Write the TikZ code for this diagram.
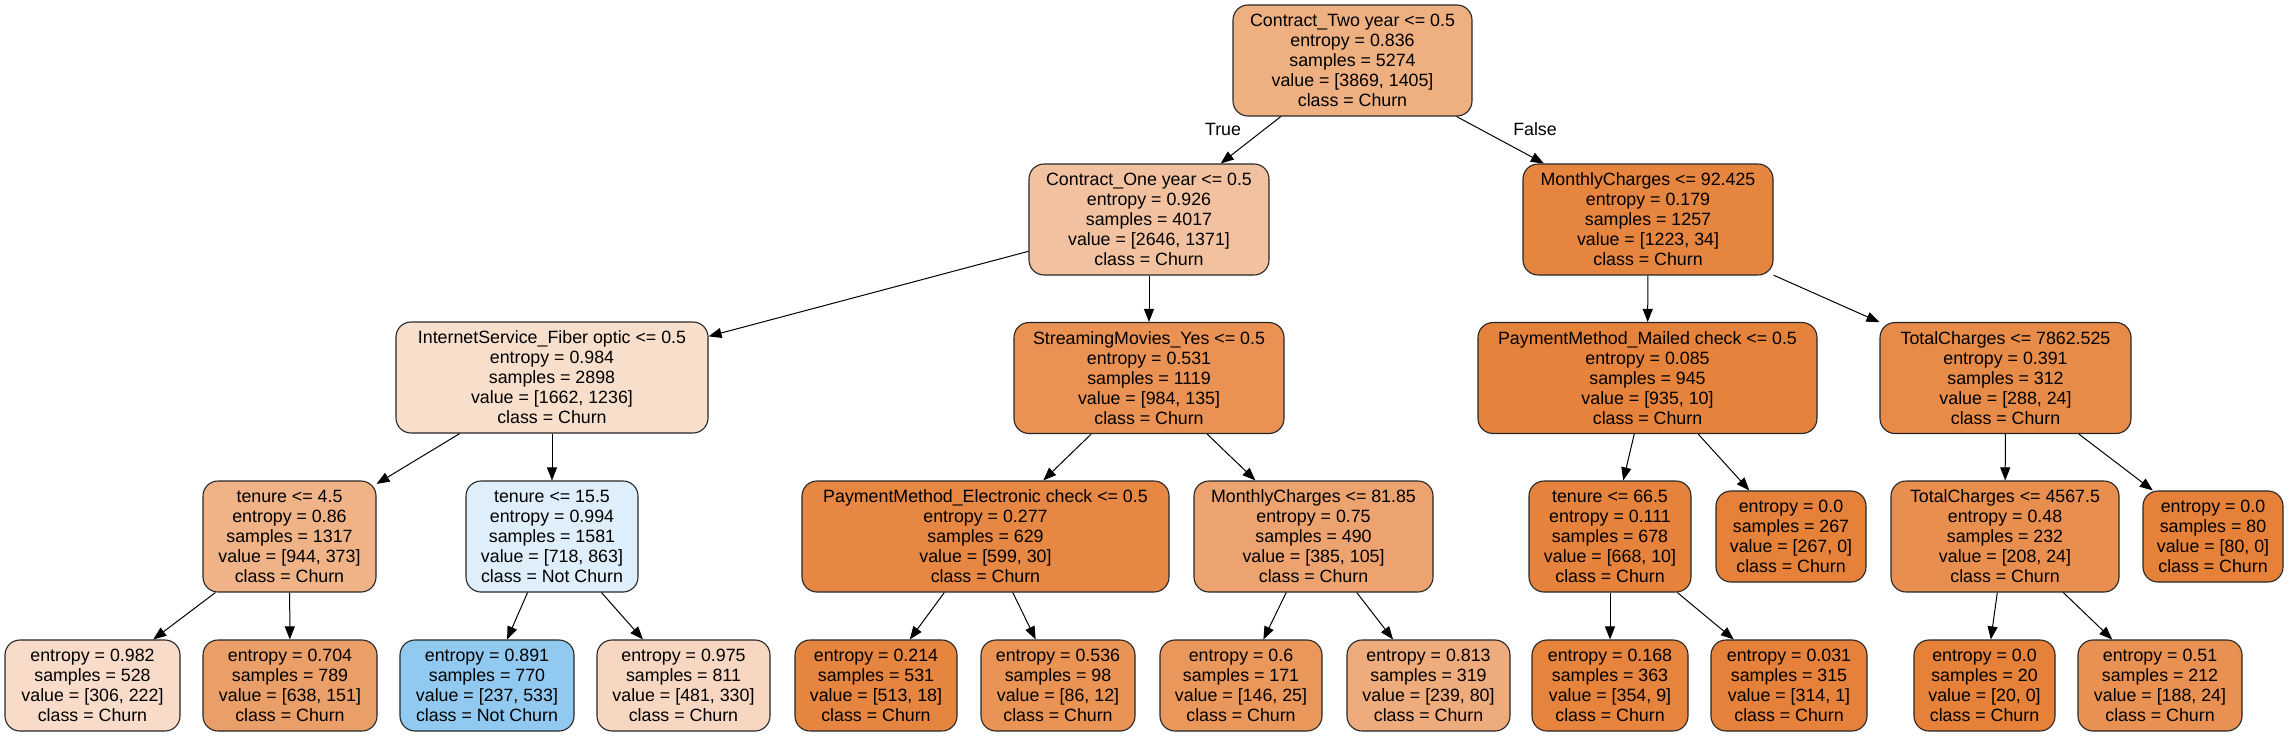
\documentclass[tikz,border=0pt]{standalone}
\usepackage{fontspec}
\setmainfont{Liberation Sans}
\usetikzlibrary{arrows.meta}
\definecolor{orng}{RGB}{229,129,57}
\definecolor{blu}{RGB}{57,157,229}
\tikzset{
  tn/.style={draw=black!85, rounded corners=15pt, line width=1.1pt, align=center,
    inner sep=0pt, font=\fontsize{17.8}{20}\selectfont, minimum height=111pt},
  lf/.style={tn, minimum height=91pt},
  edge/.style={draw=black, line width=1pt, -{Triangle[length=13pt,width=10pt]}},
  elab/.style={font=\fontsize{17.8}{20}\selectfont, inner sep=0pt}
}
\begin{document}
\begin{tikzpicture}[x=1pt,y=-1pt]
\useasboundingbox (0,0) rectangle (2289,736);
% level 0
\node[tn, minimum width=239pt, fill=orng!63.7] (root) at (1352.5,60.5) {Contract\_Two year <= 0.5\\entropy = 0.836\\samples = 5274\\value = [3869, 1405]\\class = Churn};
% level 1
\node[tn, minimum width=240pt, fill=orng!48.2] (c1) at (1149,219.5) {Contract\_One year <= 0.5\\entropy = 0.926\\samples = 4017\\value = [2646, 1371]\\class = Churn};
\node[tn, minimum width=250pt, fill=orng!97.2] (c2) at (1648,219.5) {MonthlyCharges <= 92.425\\entropy = 0.179\\samples = 1257\\value = [1223, 34]\\class = Churn};
% level 2
\node[tn, minimum width=312pt, fill=orng!25.6] (int) at (552,377.5) {InternetService\_Fiber optic <= 0.5\\entropy = 0.984\\samples = 2898\\value = [1662, 1236]\\class = Churn};
\node[tn, minimum width=270pt, fill=orng!86.3] (str) at (1149,378) {StreamingMovies\_Yes <= 0.5\\entropy = 0.531\\samples = 1119\\value = [984, 135]\\class = Churn};
\node[tn, minimum width=339pt, fill=orng!98.9] (mail) at (1647.5,378) {PaymentMethod\_Mailed check <= 0.5\\entropy = 0.085\\samples = 945\\value = [935, 10]\\class = Churn};
\node[tn, minimum width=251pt, fill=orng!91.7] (tot) at (2005.5,378) {TotalCharges <= 7862.525\\entropy = 0.391\\samples = 312\\value = [288, 24]\\class = Churn};
% level 3
\node[tn, minimum width=173pt, fill=orng!60.5] (t45) at (289.5,536.5) {tenure <= 4.5\\entropy = 0.86\\samples = 1317\\value = [944, 373]\\class = Churn};
\node[tn, minimum width=172pt, fill=blu!16.8] (t155) at (552,536.5) {tenure <= 15.5\\entropy = 0.994\\samples = 1581\\value = [718, 863]\\class = Not Churn};
\node[tn, minimum width=367pt, fill=orng!95] (pe) at (985.5,536.5) {PaymentMethod\_Electronic check <= 0.5\\entropy = 0.277\\samples = 629\\value = [599, 30]\\class = Churn};
\node[tn, minimum width=239pt, fill=orng!72.7] (m81) at (1313.5,536.5) {MonthlyCharges <= 81.85\\entropy = 0.75\\samples = 490\\value = [385, 105]\\class = Churn};
\node[tn, minimum width=162pt, fill=orng!98.5] (t665) at (1610,536.5) {tenure <= 66.5\\entropy = 0.111\\samples = 678\\value = [668, 10]\\class = Churn};
\node[lf, minimum width=150pt, fill=orng] (l267) at (1791,536.5) {entropy = 0.0\\samples = 267\\value = [267, 0]\\class = Churn};
\node[tn, minimum width=228pt, fill=orng!88.5] (tc45) at (2005,536.5) {TotalCharges <= 4567.5\\entropy = 0.48\\samples = 232\\value = [208, 24]\\class = Churn};
\node[lf, minimum width=140pt, fill=orng] (l80) at (2213,536.5) {entropy = 0.0\\samples = 80\\value = [80, 0]\\class = Churn};
% level 4
\node[lf, minimum width=175pt, fill=orng!27.5] (a1) at (92.5,685.5) {entropy = 0.982\\samples = 528\\value = [306, 222]\\class = Churn};
\node[lf, minimum width=174pt, fill=orng!76.3] (a2) at (290,685.5) {entropy = 0.704\\samples = 789\\value = [638, 151]\\class = Churn};
\node[lf, minimum width=174pt, fill=blu!55.5] (a3) at (487,685.5) {entropy = 0.891\\samples = 770\\value = [237, 533]\\class = Not Churn};
\node[lf, minimum width=173pt, fill=orng!31.4] (a4) at (683.5,685.5) {entropy = 0.975\\samples = 811\\value = [481, 330]\\class = Churn};
\node[lf, minimum width=162pt, fill=orng!96.5] (a5) at (876,685.5) {entropy = 0.214\\samples = 531\\value = [513, 18]\\class = Churn};
\node[lf, minimum width=154pt, fill=orng!86] (a6) at (1058,685.5) {entropy = 0.536\\samples = 98\\value = [86, 12]\\class = Churn};
\node[lf, minimum width=162pt, fill=orng!82.9] (a7) at (1241,685.5) {entropy = 0.6\\samples = 171\\value = [146, 25]\\class = Churn};
\node[lf, minimum width=163pt, fill=orng!66.5] (a8) at (1428.5,685.5) {entropy = 0.813\\samples = 319\\value = [239, 80]\\class = Churn};
\node[lf, minimum width=156pt, fill=orng!97.5] (a9) at (1610,685.5) {entropy = 0.168\\samples = 363\\value = [354, 9]\\class = Churn};
\node[lf, minimum width=156pt, fill=orng!99.7] (a10) at (1789,685.5) {entropy = 0.031\\samples = 315\\value = [314, 1]\\class = Churn};
\node[lf, minimum width=141pt, fill=orng] (a11) at (1984.5,685.5) {entropy = 0.0\\samples = 20\\value = [20, 0]\\class = Churn};
\node[lf, minimum width=164pt, fill=orng!87.2] (a12) at (2160,685.5) {entropy = 0.51\\samples = 212\\value = [188, 24]\\class = Churn};
% edges
\draw[edge] (root) -- (c1);
\draw[edge] (root) -- (c2);
\node[elab] (ltrue) at (1223,129) {True};
\node[elab] (lfalse) at (1535,129) {False};
\draw[edge] (c1) -- (int);
\draw[edge] (c1) -- (str);
\draw[edge] (c2) -- (mail);
\draw[edge] (c2) -- (tot);
\draw[edge] (int) -- (t45);
\draw[edge] (int) -- (t155);
\draw[edge] (str) -- (pe);
\draw[edge] (str) -- (m81);
\draw[edge] (mail) -- (t665);
\draw[edge] (mail) -- (l267);
\draw[edge] (tot) -- (tc45);
\draw[edge] (tot) -- (l80);
\draw[edge] (t45) -- (a1);
\draw[edge] (t45) -- (a2);
\draw[edge] (t155) -- (a3);
\draw[edge] (t155) -- (a4);
\draw[edge] (pe) -- (a5);
\draw[edge] (pe) -- (a6);
\draw[edge] (m81) -- (a7);
\draw[edge] (m81) -- (a8);
\draw[edge] (t665) -- (a9);
\draw[edge] (t665) -- (a10);
\draw[edge] (tc45) -- (a11);
\draw[edge] (tc45) -- (a12);
\end{tikzpicture}
\end{document}
